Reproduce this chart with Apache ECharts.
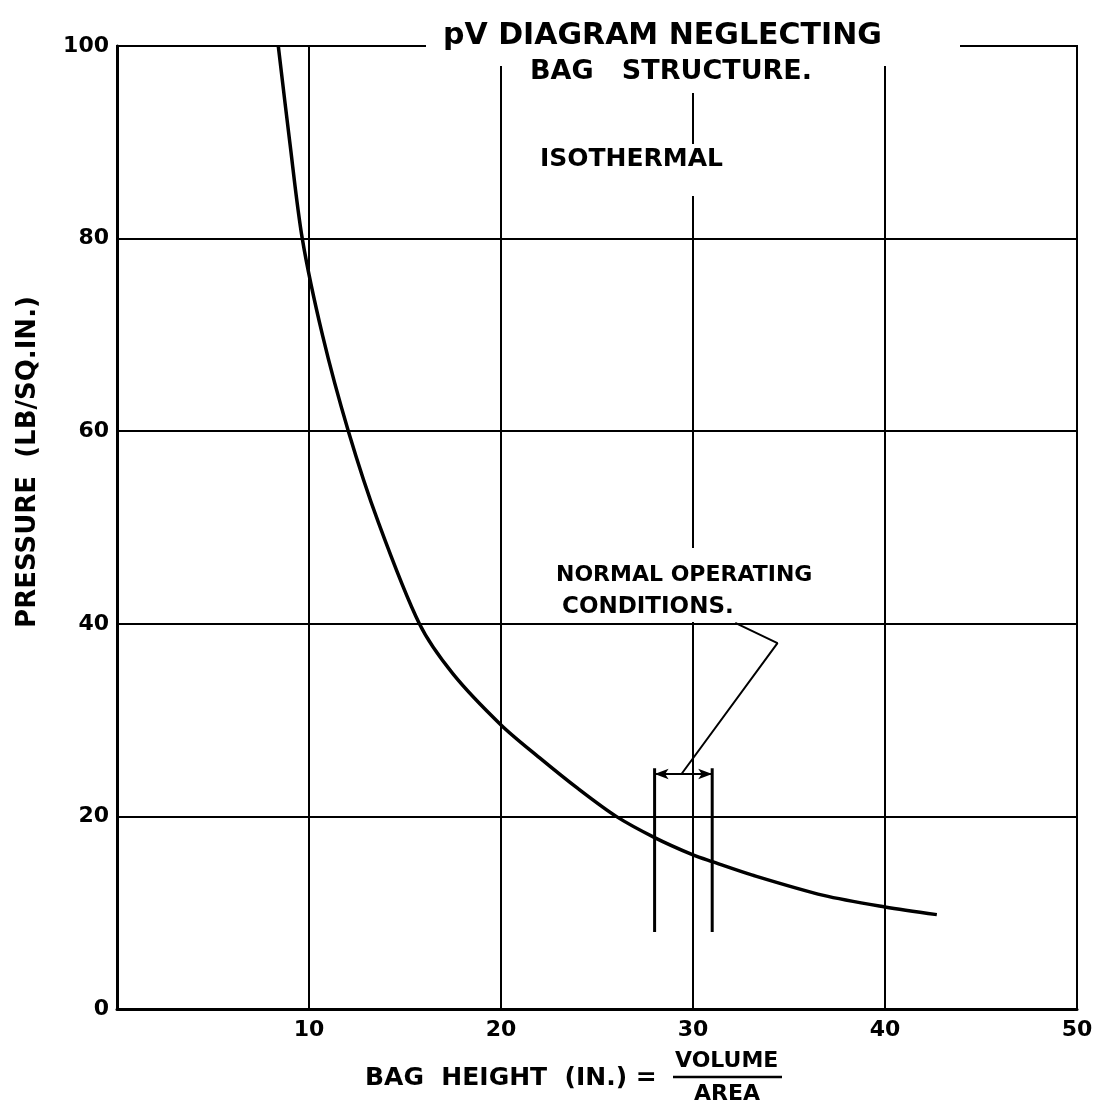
<!DOCTYPE html>
<html>
<head>
<meta charset="utf-8">
<script src="https://cdn.jsdelivr.net/npm/echarts@6/dist/echarts.min.js"></script>
<style>
  html, body { margin: 0; padding: 0; background: #fff; }
  #chart { width: 1110px; height: 1108px; }
</style>
</head>
<body>
<div id="chart"></div>
<script>
// isothermal pV curve
const bagHeight = [8.4, 9.0, 9.65, 10.7, 12.05, 13.6, 15.75, 17.5, 20.0, 22.0, 24.0, 26.0, 28.0, 30.0, 31.0, 33.1, 36.8, 40.0, 42.7]
const pressure = [100, 90, 80, 70, 60, 50.6, 40, 34.8, 29.5, 26.1, 22.9, 20.0, 17.8, 16.0, 15.3, 13.9, 11.8, 10.6, 9.8]

// axis ticks
const xTicks = [0, 10, 20, 30, 40, 50]
const yTicks = [0, 20, 40, 60, 80, 100]

// normal operating conditions bracket
const opRange = [28.0, 31.0]
const opBracketTop = 25
const opBracketBottom = 8
const opBarY = 24.4
const leaderX = [29.4, 34.4, 32.2]
const leaderY = [24.4, 38.0, 40.1]

const FONT = 'DejaVu Sans'
const ink = '#000'

const chart = echarts.init(document.getElementById('chart'))

const seg = (xs, ys) => xs.map((v, i) => [v, ys[i]])

chart.setOption({
  backgroundColor: '#fff',
  animation: false,
  grid: {
    left: 117, right: 33, top: 46, bottom: 99,
    show: true, borderColor: ink, borderWidth: 2
  },
  xAxis: {
    type: 'value',
    min: xTicks[0], max: xTicks[xTicks.length - 1], interval: 10,
    axisLine: { onZero: false, lineStyle: { color: ink, width: 3 } },
    axisTick: { show: false },
    splitLine: { lineStyle: { color: ink, width: 2 } },
    axisLabel: {
      color: ink, fontFamily: FONT, fontWeight: 'bold', fontSize: 22, margin: 10,
      formatter: v => (v === 0 ? '' : String(v))
    }
  },
  yAxis: {
    type: 'value',
    min: yTicks[0], max: yTicks[yTicks.length - 1], interval: 20,
    axisLine: { lineStyle: { color: ink, width: 3 } },
    axisTick: { show: false },
    splitLine: { lineStyle: { color: ink, width: 2 } },
    axisLabel: { color: ink, fontFamily: FONT, fontWeight: 'bold', fontSize: 22, margin: 8 }
  },
  series: [
    {
      name: 'isothermal',
      type: 'line',
      data: seg(bagHeight, pressure),
      smooth: 0.3,
      showSymbol: false,
      lineStyle: { color: ink, width: 3.5 },
      z: 5
    },
    {
      type: 'line',
      data: seg([opRange[0], opRange[0]], [opBracketTop, opBracketBottom]),
      showSymbol: false,
      lineStyle: { color: ink, width: 3 },
      z: 5
    },
    {
      type: 'line',
      data: seg([opRange[1], opRange[1]], [opBracketTop, opBracketBottom]),
      showSymbol: false,
      lineStyle: { color: ink, width: 3 },
      z: 5
    },
    {
      type: 'line',
      data: seg(leaderX, leaderY),
      showSymbol: false,
      lineStyle: { color: ink, width: 2 },
      z: 5,
      markLine: {
        silent: true,
        symbol: ['arrow', 'arrow'],
        symbolSize: [8, 14],
        label: { show: false },
        lineStyle: { color: ink, width: 2, type: 'solid' },
        data: [[{ coord: [opRange[0], opBarY] }, { coord: [opRange[1], opBarY] }]]
      }
    }
  ],
  graphic: [
    // white boxes that break the frame/grid under the lettering
    { type: 'rect', z: 50, shape: { x: 426, y: 18, width: 534, height: 48 }, style: { fill: '#fff' } },
    { type: 'rect', z: 50, shape: { x: 512, y: 60, width: 330, height: 33 }, style: { fill: '#fff' } },
    { type: 'rect', z: 50, shape: { x: 532, y: 144, width: 200, height: 52 }, style: { fill: '#fff' } },
    { type: 'rect', z: 50, shape: { x: 548, y: 548, width: 270, height: 74 }, style: { fill: '#fff' } },
    {
      type: 'text', z: 60, left: 443, top: 21,
      style: { text: 'pV DIAGRAM NEGLECTING', fill: ink, font: `bold 30px "${FONT}"` }
    },
    {
      type: 'text', z: 60, left: 530, top: 58,
      style: { text: 'BAG   STRUCTURE.', fill: ink, font: `bold 27px "${FONT}"` }
    },
    {
      type: 'text', z: 60, left: 540, top: 147,
      style: { text: 'ISOTHERMAL', fill: ink, font: `bold 25px "${FONT}"` }
    },
    {
      type: 'text', z: 60, left: 556, top: 564,
      style: { text: 'NORMAL OPERATING', fill: ink, font: `bold 22px "${FONT}"` }
    },
    {
      type: 'text', z: 60, left: 562, top: 596,
      style: { text: 'CONDITIONS.', fill: ink, font: `bold 23px "${FONT}"` }
    },
    {
      type: 'text', z: 60, x: 28, y: 462, rotation: Math.PI / 2,
      style: {
        text: 'PRESSURE  (LB/SQ.IN.)', fill: ink, font: `bold 26px "${FONT}"`,
        align: 'center', verticalAlign: 'middle'
      }
    },
    {
      type: 'text', z: 60, left: 365, top: 1066,
      style: { text: 'BAG  HEIGHT  (IN.) =', fill: ink, font: `bold 25px "${FONT}"` }
    },
    {
      type: 'text', z: 60, left: 675, top: 1050,
      style: { text: 'VOLUME', fill: ink, font: `bold 22px "${FONT}"` }
    },
    {
      type: 'line', z: 60,
      shape: { x1: 673, y1: 1077, x2: 782, y2: 1077 },
      style: { stroke: ink, lineWidth: 2.5 }
    },
    {
      type: 'text', z: 60, left: 694, top: 1083,
      style: { text: 'AREA', fill: ink, font: `bold 22px "${FONT}"` }
    }
  ]
})
</script>
</body>
</html>
